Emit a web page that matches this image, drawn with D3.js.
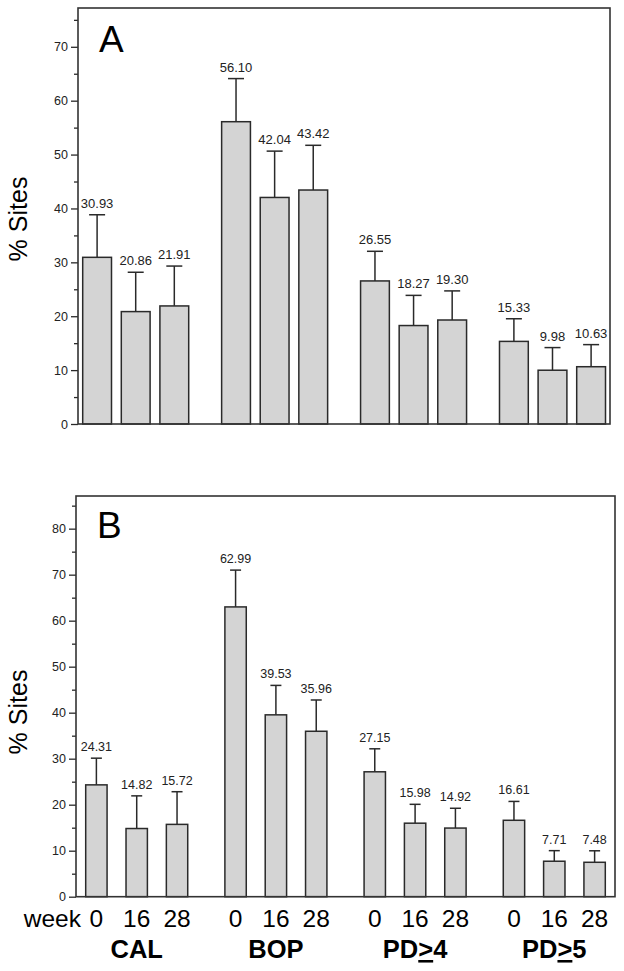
<!DOCTYPE html>
<html><head><meta charset="utf-8">
<script src="https://cdn.jsdelivr.net/npm/d3@7"></script>
<style>
body{margin:0;background:#fff;}
svg{display:block;font-family:"Liberation Sans",Arial,sans-serif;}
</style></head>
<body><svg id="c" width="624" height="971"></svg>
<script>
const groups = ["CAL","BOP","PD>4","PD>5"];
const weeks = ["0","16","28"];
const meanA = [30.93,20.86,21.91, 56.10,42.04,43.42, 26.55,18.27,19.30, 15.33,9.98,10.63];
const errA  = [7.9,7.3,7.4, 8.0,8.6,8.3, 5.5,5.6,5.4, 4.2,4.2,4.1];
const meanB = [24.31,14.82,15.72, 62.99,39.53,35.96, 27.15,15.98,14.92, 16.61,7.71,7.48];
const errB  = [5.8,7.1,7.1, 8.0,6.4,6.8, 5.0,4.1,4.3, 4.1,2.3,2.5];
const ticksA = [0,10,20,30,40,50,60,70];
const ticksB = [0,10,20,30,40,50,60,70,80];

const svg = d3.select("#c");
const stroke = "#2a2a2a";

function panel(cfg){
  const g = svg.append("g");
  const y = d3.scaleLinear().domain([0,cfg.ymax]).range([cfg.bottom,cfg.top]);
  const x0 = d3.scaleBand().domain(groups).range([cfg.bx0,cfg.bx1]).paddingInner(cfg.gpad).paddingOuter(0);
  const x1 = d3.scaleBand().domain(weeks).range([0,x0.bandwidth()]).paddingInner(cfg.ipad).paddingOuter(0);
  const data = [];
  groups.forEach((gr,i)=>weeks.forEach((w,j)=>data.push({g:gr,w:w,v:cfg.mean[i*3+j],e:cfg.err[i*3+j]})));
  const xc = d => x0(d.g)+x1(d.w)+x1.bandwidth()/2;

  // minor ticks
  const minor = d3.range(5, cfg.ymax, 10);
  g.append("g").attr("transform",`translate(${cfg.left},0)`)
    .call(d3.axisLeft(y).tickValues(minor).tickSize(4).tickFormat(""))
    .call(a=>a.select(".domain").remove())
    .call(a=>a.selectAll("line").attr("stroke",stroke).attr("stroke-width",1.3));
  // major ticks
  g.append("g").attr("transform",`translate(${cfg.left},0)`)
    .call(d3.axisLeft(y).tickValues(cfg.ticks).tickSize(7).tickPadding(3).tickFormat(d3.format("d")))
    .call(a=>a.select(".domain").remove())
    .call(a=>a.selectAll("line").attr("stroke",stroke).attr("stroke-width",1.3))
    .call(a=>a.selectAll("text").attr("font-size",12.5).attr("fill","#222").attr("font-family","Liberation Sans, Arial, sans-serif"));

  // error bars
  const eb = g.append("g").attr("stroke",stroke).attr("stroke-width",1.5);
  eb.selectAll("line.v").data(data).join("line").attr("class","v")
    .attr("x1",xc).attr("x2",xc).attr("y1",d=>y(d.v)).attr("y2",d=>y(d.v+d.e));
  eb.selectAll("line.c").data(data).join("line").attr("class","c")
    .attr("x1",d=>xc(d)-cfg.cap/2).attr("x2",d=>xc(d)+cfg.cap/2)
    .attr("y1",d=>y(d.v+d.e)).attr("y2",d=>y(d.v+d.e));

  // bars
  g.append("g").selectAll("rect").data(data).join("rect")
    .attr("x",d=>x0(d.g)+x1(d.w)).attr("width",x1.bandwidth())
    .attr("y",d=>y(d.v)).attr("height",d=>y(0)-y(d.v))
    .attr("fill","#d4d4d4").attr("stroke",stroke).attr("stroke-width",1.5);

  // value labels
  g.append("g").selectAll("text").data(data).join("text")
    .attr("x",xc).attr("y",d=>y(d.v+d.e)-7)
    .attr("text-anchor","middle").attr("font-size",cfg.vfs).attr("fill","#222")
    .text(d=>d.v.toFixed(2));

  // frame
  g.append("rect").attr("x",cfg.left).attr("y",cfg.top)
    .attr("width",cfg.right-cfg.left).attr("height",cfg.bottom-cfg.top)
    .attr("fill","none").attr("stroke","#333").attr("stroke-width",1.6);

  // panel letter
  g.append("text").attr("x",cfg.left+21).attr("y",cfg.letterY)
    .attr("font-size",37).attr("fill","#000").text(cfg.letter);

  // y title
  g.append("text").attr("transform",`translate(${cfg.ytx},${cfg.yty}) rotate(-90)`)
    .attr("text-anchor","middle").attr("font-size",25).attr("fill","#000").text("% Sites");

  return {x0,x1,data,xc,y};
}

panel({left:78,right:610,top:8,bottom:424,ymax:77.2,bx0:82.7,bx1:605.5,gpad:0.237,ipad:0.254,
  mean:meanA,err:errA,ticks:ticksA,cap:16,vfs:13,letter:"A",letterY:52,ytx:27,yty:219});
const pb = panel({left:76,right:615,top:496,bottom:896.7,ymax:87.1,bx0:85.7,bx1:605.3,gpad:0.267,ipad:0.47,
  mean:meanB,err:errB,ticks:ticksB,cap:11,vfs:12.5,letter:"B",letterY:538,ytx:27,yty:712});

// bottom labels
const lab = svg.append("g");
lab.append("text").attr("x",81).attr("y",927).attr("text-anchor","end")
  .attr("font-size",24.5).text("week");
lab.selectAll("text.w").data(pb.data).join("text").attr("class","w")
  .attr("x",pb.xc).attr("y",927).attr("text-anchor","middle").attr("font-size",24.5).text(d=>d.w);
const cat = lab.selectAll("text.g").data(groups).join("text").attr("class","g")
  .attr("x",d=>pb.x0(d)+pb.x0.bandwidth()/2).attr("y",958).attr("text-anchor","middle")
  .attr("font-size",25.5).attr("font-weight","bold");
cat.each(function(d){
  const t = d3.select(this);
  const m = d.match(/^(PD)>(\d)$/);
  if(m){
    t.append("tspan").text(m[1]);
    t.append("tspan").style("text-decoration","underline").text(">");
    t.append("tspan").text(m[2]);
  } else t.text(d);
});
</script></body></html>
